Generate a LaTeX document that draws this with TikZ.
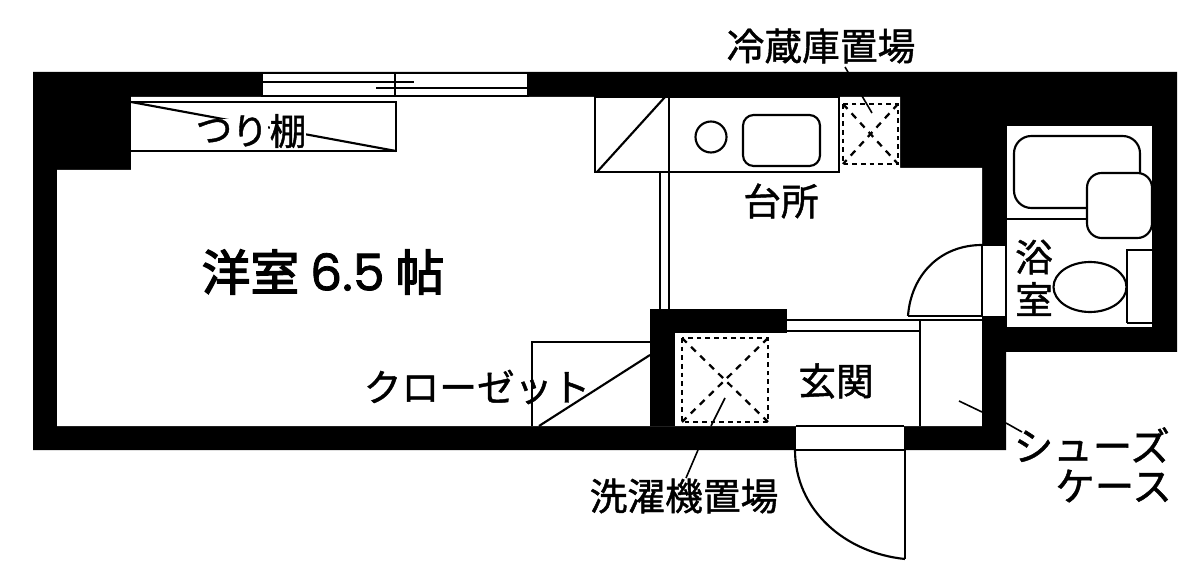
\documentclass[tikz,border=0pt]{standalone}
\usepackage{fontspec}
\setmainfont{Noto Sans CJK JP}[FakeBold=1.2]
\newfontfamily\bigfont{Noto Sans CJK JP}[FakeBold=3]
\newfontfamily\numfont{Poppins}[FakeBold=1.5]
\tikzset{
  wall/.style={fill=black,draw=none},
  room/.style={fill=white,draw=none},
  ln/.style={draw=black,line width=1.6pt},
  thinln/.style={draw=black,line width=1.2pt},
  dashln/.style={draw=black,line width=1.9pt,dash pattern=on 3.5pt off 3pt},
  xdash/.style={draw=black,line width=1.7pt,dash pattern=on 5pt off 4.5pt},
  lbl/.style={inner sep=0pt,font=\fontsize{28.3pt}{30pt}\selectfont,text=black},
  shoe/.style={inner sep=0pt,font=\fontsize{29.6pt}{30pt}\selectfont,text=black},
  shelf/.style={inner sep=0pt,fill=white,font=\fontsize{27.5pt}{28pt}\selectfont,text=black},
  big/.style={inner sep=0pt,font=\fontsize{36.5pt}{38pt}\bigfont,text=black}
}
\begin{document}
\begin{tikzpicture}[x=0.75pt,y=-0.75pt]
\useasboundingbox (0,0) rectangle (1200,570);
\fill[white] (0,0) rectangle (1200,570);
% outer walls
\path[wall] (33,72)--(1177,72)--(1177,352)--(1006,352)--(1006,450)--(33,450)--cycle;
% main room + kitchen
\path[room] (57,170)--(131,170)--(131,97)--(900,97)--(900,168)--(982,168)--(982,426)--(57,426)--cycle;
% bath
\path[room] (1007,126)--(1152,126)--(1152,327)--(1007,327)--cycle;
% door gap bath
\path[room] (981,245) rectangle (1008,316);
% window
\path[room] (262,73) rectangle (528,96);
% partition
\path[wall] (650,309) rectangle (787,333);
\path[wall] (650,309) rectangle (675,426);
% entry gap
\path[room] (796,426) rectangle (904,449);
\path[wall] (982,316) rectangle (1006,426);
% window lines
\draw[ln] (262,73) rectangle (528,96);
\draw[thinln] (262,82)--(414,82);
\draw[thinln] (376,88)--(528,88);
\draw[thinln] (395,73)--(395,96);
% hanging shelf
\draw[ln] (131,102)--(396,102)--(396,151)--(131,151);
\draw[ln] (131,102)--(396,151);
\node[shelf] (s1) at (214,131) {つ};
\node[shelf] (s2) at (250,131) {り};
\node[shelf] (s3) at (288,131) {棚};
% counter
\draw[ln] (595,97) rectangle (839,172);
\draw[ln] (669,97)--(669,172);
\draw[ln] (597,172)--(665,97);
\draw[ln] (711,137) circle[x radius=15.5,y radius=15.5];
\draw[ln,rounded corners=8pt] (743,115) rectangle (820,166);
% double partition
\draw[ln] (660,172)--(660,309);
\draw[ln] (669,172)--(669,309);
% fridge
\draw[dashln] (843,104) rectangle (898,164);
\draw[xdash] (843,104)--(898,164);
\draw[xdash] (898,104)--(843,164);
% bath fixtures
\draw[ln,rounded corners=13pt] (1014,208)--(1014,136)--(1140,136)--(1140,208)--cycle;
\draw[ln] (1007,219)--(1087,219);
\draw[ln,fill=white,rounded corners=11pt] (1087,173) rectangle (1152,238);
\draw[ln] (1127,323)--(1127,250)--(1152,250);
\draw[ln] (1127,323)--(1152,323);
\draw[ln] (1090,287) circle[x radius=36.5,y radius=25];
% bath door
\draw[ln] (982,245)--(1006,245);
\draw[ln] (1006,219)--(1006,316);
\draw[ln] (982,245)--(982,316);
\draw[ln] (908,316)--(982,316);
\draw[ln] (908,316) .. controls (911,275) and (940,245) .. (982,245);
% kitchen/foyer double line
\draw[ln] (787,320)--(982,320);
\draw[ln] (787,331)--(920,331);
\draw[ln] (920,320)--(920,426);
% closet
\draw[ln] (650,342)--(532,342)--(532,426);
\draw[ln] (539,426)--(650,355);
% laundry
\draw[dashln] (682,338) rectangle (768,422);
\draw[xdash] (682,338)--(768,422);
\draw[xdash] (768,338)--(682,422);
% entry door
\draw[thinln] (796,426)--(904,426);
\draw[ln] (795,450)--(905,450);
\draw[ln] (905,450)--(905,559);
\draw[ln] (795,450) .. controls (795,510) and (845,553) .. (905,559);
% labels
\node[big] (main) at (323,272) {洋室 {\numfont\fontsize{38pt}{38pt}\selectfont 6.5} 帖};
\node[lbl] (fridge) at (821,46) {冷蔵庫置場};
\node[lbl] (kitchen) at (781,201) {台所};
\node[lbl] (bath1) at (1034,257) {浴};
\node[lbl] (bath2) at (1034,299) {室};
\node[lbl] (closet) at (477,387) {クローゼット};
\node[lbl] (genkan) at (836,381) {玄関};
\node[lbl] (laundry) at (684,496) {洗濯機置場};
\node[shoe,anchor=east] (shoe1) at (1170,445) {シューズ};
\node[shoe,anchor=east] (shoe2) at (1172,486) {ケース};
% leaders
\coordinate (fa) at (845,67);
\coordinate (fb) at (872,113);
\draw[thinln] (fa)--(fb);
\coordinate (la) at (725,398);
\coordinate (lb) at (686,478);
\draw[thinln] (la)--(711,426);
\draw[thinln] (698,450)--(lb);
\coordinate (sa) at (959,401);
\draw[thinln] (sa)--(982,412);
\draw[thinln] (1006,423)--(1022,432);
\end{tikzpicture}
\end{document}
